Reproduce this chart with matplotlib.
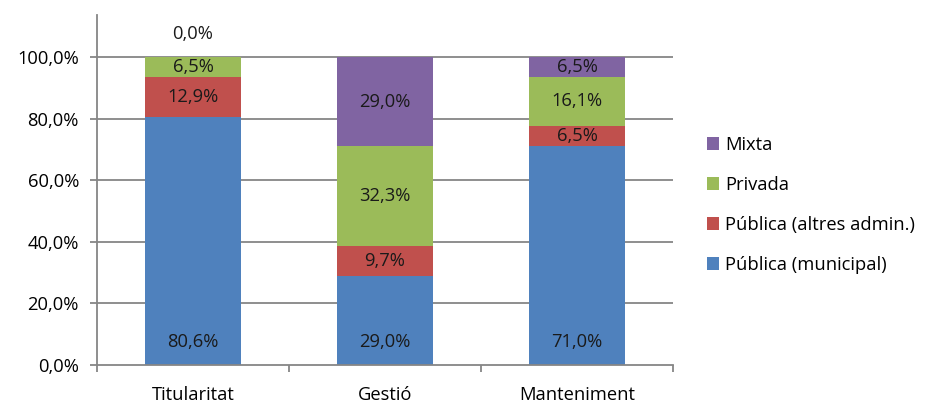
import matplotlib.pyplot as plt
import numpy as np

categories = ["Titularitat", "Gestió", "Manteniment"]
series_names = ["Pública (municipal)", "Pública (altres admin.)", "Privada", "Mixta"]
municipal = [80.6, 29.0, 71.0]
altres = [12.9, 9.7, 6.5]
privada = [6.5, 32.3, 16.1]
mixta = [0.0, 29.0, 6.5]
colors = ["#4F81BD", "#C0504D", "#9BBB59", "#8064A2"]

plt.rcParams['font.family'] = ['Open Sans', 'DejaVu Sans']
FS = 13.2

fig = plt.figure(figsize=(9.29, 4.07), dpi=100)
ax = fig.add_axes([97 / 929, 1 - 365 / 407, 576 / 929, 350 / 407])

x = np.arange(len(categories))
bottom = np.zeros(len(categories))
grey = "#868686"
for i, vals in enumerate([municipal, altres, privada, mixta]):
    vals = np.array(vals)
    ax.bar(x, vals, 0.5, bottom=bottom, color=colors[i], label=series_names[i], zorder=2)
    for j, v in enumerate(vals):
        txt = f"{v:.1f}%".replace(".", ",")
        if i == 0:
            ypos = 7.5
        elif v == 0:
            ypos = bottom[j] + 7.5
        else:
            ypos = bottom[j] + v / 2
        ax.text(x[j], ypos, txt, ha="center", va="center", fontsize=FS, color="#1a1a1a", zorder=3)
    bottom += vals

ax.set_xlim(-0.5, 2.5)
ax.set_ylim(0, 113.6)
ax.set_yticks(np.arange(0, 101, 20))
ax.set_yticklabels([f"{t:.1f}%".replace(".", ",") for t in np.arange(0, 101, 20)], fontsize=FS)
ax.set_xticks(x)
ax.set_xticklabels(categories, fontsize=FS)
ax.set_xticks([-0.5, 0.5, 1.5, 2.5], minor=True)
ax.tick_params(axis="x", which="major", length=0, pad=15)
ax.tick_params(axis="x", which="minor", length=5, color=grey, width=1.3)
ax.tick_params(axis="y", length=5, color=grey, width=1.3, pad=8)
for t in np.arange(20, 101, 20):
    ax.axhline(t, color=grey, lw=1.3, zorder=1)
for s in ["top", "right"]:
    ax.spines[s].set_visible(False)
for s in ["left", "bottom"]:
    ax.spines[s].set_color(grey)
    ax.spines[s].set_linewidth(1.3)

h, l = ax.get_legend_handles_labels()
ax.legend(h[::-1], l[::-1], loc="center left", bbox_to_anchor=(1.03, 0.5 - 0.043),
          frameon=False, fontsize=FS, handlelength=0.65, handleheight=0.65,
          labelspacing=1.2, handletextpad=0.35)

fig.savefig("out.png", dpi=100)
